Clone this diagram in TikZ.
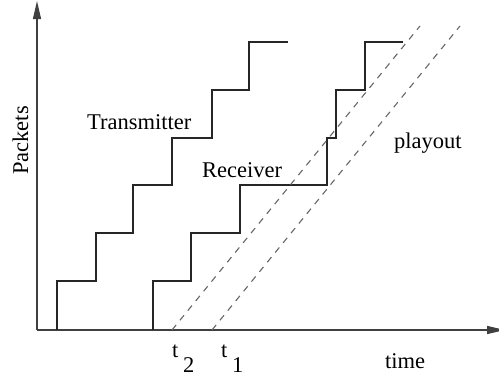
\documentclass[tikz,border=0pt]{standalone}
\usepackage{fontspec}
\setmainfont{Liberation Serif}
\usetikzlibrary{arrows.meta}
\tikzset{
  lbl/.style={inner sep=0pt, anchor=base west, font=\fontsize{22.5}{27}\selectfont},
  stair/.style={line width=1.2pt, color=black!85},
  axis/.style={line width=1.2pt, color=black!75, -{Triangle[length=18pt,width=8pt]}},
  play/.style={line width=1.1pt, color=black!60, dash pattern=on 6.5pt off 6pt}
}
\begin{document}
\begin{tikzpicture}[x=1pt,y=-1pt]
\useasboundingbox (0,0) rectangle (499,378);
% axes
\coordinate (O) at (37,330);
\coordinate (ytop) at (37,1);
\coordinate (xend) at (505,330);
\draw[axis] (O) -- (ytop);
\draw[axis] (O) -- (xend);
% transmitter staircase
\draw[stair] (57,330) |- (96,281) |- (133,233) |- (172,185) |- (212,138) |- (249,90) |- (288,42);
% receiver staircase
\draw[stair] (153,330) |- (191,281) |- (240,233) |- (327,185) |- (336,138) |- (365,90) |- (403,42);
% playout lines
\coordinate (t2b) at (172,330);
\coordinate (t2e) at (420,26);
\coordinate (t1b) at (212,330);
\coordinate (t1e) at (460,26);
\draw[play] (t2b) -- (t2e);
\draw[play] (t1b) -- (t1e);
% labels
\node[lbl, rotate=90] (packets) at (28,175) {Packets};
\node[lbl] (tx) at (87,129) {Transmitter};
\node[lbl] (rx) at (202,177) {Receiver};
\node[lbl] (po) at (394,148) {playout};
\node[lbl] (time) at (385,368) {time};
\node[lbl] (t2t) at (172,357) {t};
\node[lbl] (t2s) at (183,372) {2};
\node[lbl] (t1t) at (221,357) {t};
\node[lbl] (t1s) at (232,372) {1};
\end{tikzpicture}
\end{document}
